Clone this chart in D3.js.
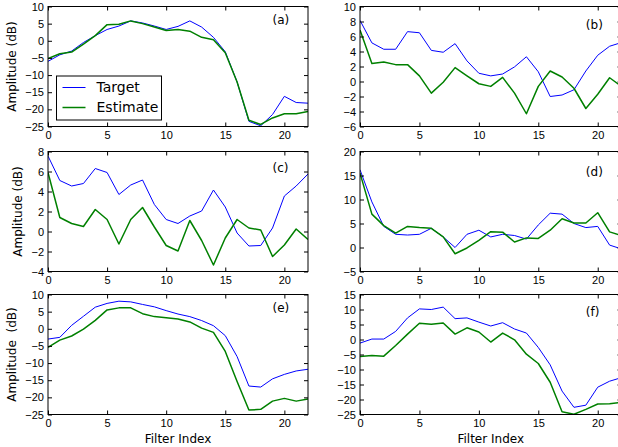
<!DOCTYPE html>
<html>
<head>
<meta charset="utf-8">
<script src="https://cdn.jsdelivr.net/npm/d3@7"></script>
<style>
  body { margin: 0; background: #fff; }
  svg { display: block; font-family: 'DejaVu Sans', sans-serif; }
  .axis path { display: none; }
  .axis line { stroke: #000; }
  .axis text { font-size: 11px; fill: #000; }
  .frame { fill: none; stroke: #000; stroke-width: 1; }
  .curve { fill: none; stroke-linejoin: round; }
  .target { stroke: #0000ff; stroke-width: 1; }
  .estimate { stroke: #008000; stroke-width: 1.5; }
  .label { font-size: 12px; fill: #000; white-space: pre; }
  .tag { font-size: 12px; fill: #000; }
  .legend text { font-size: 14px; fill: #000; }
</style>
</head>
<body>
<script>
/* global d3 */

let filterIndex = d3.range(0, 23)
let xTicks = [0, 5, 10, 15, 20]

let targetA = [-6.0, -4.1, -3.0, -0.5, 1.5, 3.3, 4.3, 5.8, 5.2, 4.3, 3.3, 4.2, 5.8, 4.0, 1.0, -3.2, -12.0, -23.5, -24.8, -21.5, -16.2, -18.0, -18.2]
let estimateA = [-5.2, -3.8, -3.3, -1.0, 1.5, 4.7, 4.8, 5.8, 5.0, 4.0, 3.0, 3.3, 2.8, 1.0, 0.3, -3.5, -12.0, -23.2, -24.4, -22.5, -21.3, -21.3, -20.6]

let targetB = [8.15, 5.15, 4.3, 4.3, 6.65, 6.5, 4.15, 3.9, 5.05, 2.75, 1.1, 0.75, 1.0, 1.95, 3.3, 1.3, -2.0, -1.8, -1.1, 1.4, 3.5, 4.7, 5.2]
let estimateB = [6.85, 2.4, 2.6, 2.25, 2.25, 0.75, -1.55, -0.1, 1.85, 0.75, -0.3, -0.65, 0.55, -1.55, -4.3, -0.65, 1.4, 0.6, -0.9, -3.6, -1.7, 0.5, -0.65]

let targetC = [7.55, 5.1, 4.55, 4.8, 6.3, 5.9, 3.7, 4.65, 5.15, 2.7, 1.2, 0.8, 1.55, 2.05, 4.15, 2.45, -0.15, -1.45, -1.4, 0.35, 3.55, 4.55, 5.75]
let estimateC = [5.9, 1.4, 0.8, 0.5, 2.2, 1.2, -1.25, 1.2, 2.4, 0.45, -1.4, -1.95, 1.1, -0.9, -3.35, -0.65, 1.2, 0.35, 0.15, -2.5, -1.35, 0.25, -0.8]

let targetD = [16.2, 9.5, 4.4, 2.75, 2.6, 2.75, 4.0, 2.2, 0.0, 2.75, 3.6, 2.2, 2.75, 2.5, 1.75, 4.7, 7.15, 6.95, 5.0, 4.15, 4.4, 0.5, -0.3]
let estimateD = [15.5, 6.95, 4.55, 3.0, 4.4, 4.15, 4.0, 2.2, -1.3, -0.1, 1.5, 3.3, 3.2, 1.15, 2.0, 1.9, 3.6, 6.0, 5.1, 5.1, 7.25, 3.25, 2.5]

let targetE = [-3.0, -2.5, 1.0, 3.65, 6.3, 7.4, 8.05, 7.85, 7.1, 6.4, 5.3, 4.3, 3.55, 2.4, 0.9, -2.0, -8.1, -16.7, -17.0, -14.6, -13.3, -12.3, -11.8]
let estimateE = [-5.45, -3.3, -2.1, -0.1, 2.45, 5.5, 6.1, 6.1, 4.4, 3.55, 3.25, 2.85, 2.0, 0.2, -1.05, -6.6, -15.4, -23.7, -23.5, -21.1, -20.3, -21.1, -20.5]

let targetF = [-1.2, 0.15, 0.15, 2.7, 7.2, 10.2, 10.0, 10.8, 6.95, 7.2, 5.8, 4.5, 5.6, 3.5, 2.15, -2.65, -8.45, -17.2, -22.6, -21.9, -15.9, -13.9, -12.7]
let estimateF = [-5.65, -5.3, -5.55, -2.0, 1.8, 5.4, 5.05, 5.5, 1.8, 3.9, 2.5, -0.85, 2.15, -0.1, -4.9, -8.0, -14.25, -24.1, -24.9, -23.3, -21.5, -21.4, -21.0]

let yTicksA = d3.range(-25, 11, 5)
let yTicksB = d3.range(-6, 11, 2)
let yTicksC = d3.range(-4, 9, 2)
let yTicksD = d3.range(-5, 21, 5)
let yTicksE = d3.range(-25, 11, 5)
let yTicksF = d3.range(-25, 16, 5)

let seriesNames = ['Target', 'Estimate']
let yLabel = 'Amplitude (dB)'
let yLabelE = 'Amplitude  (dB)'
let xLabel = 'Filter Index'

function main () {
  let svg = d3.select('body').append('svg')
    .attr('width', 618)
    .attr('height', 447)

  let cols = [{left: 48, width: 260}, {left: 360, width: 261.5}]
  let rows = [6.5, 151.5, 294.5]
  let height = 120

  let panels = [
    {tag: '(a)', target: targetA, estimate: estimateA, yTicks: yTicksA, tagAt: [19, 5], col: 0, row: 0, yLabel: yLabel, legend: true},
    {tag: '(b)', target: targetB, estimate: estimateB, yTicks: yTicksB, tagAt: [19, 7], col: 1, row: 0},
    {tag: '(c)', target: targetC, estimate: estimateC, yTicks: yTicksC, tagAt: [19, 6], col: 0, row: 1, yLabel: yLabel},
    {tag: '(d)', target: targetD, estimate: estimateD, yTicks: yTicksD, tagAt: [19, 15], col: 1, row: 1},
    {tag: '(e)', target: targetE, estimate: estimateE, yTicks: yTicksE, tagAt: [19, 5], col: 0, row: 2, yLabel: yLabelE, xLabel: xLabel},
    {tag: '(f)', target: targetF, estimate: estimateF, yTicks: yTicksF, tagAt: [19, 8], col: 1, row: 2, xLabel: xLabel},
  ]

  for (let panel of panels) {
    let col = cols[panel.col]
    renderPanel({
      svg,
      panel,
      left: col.left,
      top: rows[panel.row],
      width: col.width,
      height,
    })
  }
}

function renderPanel ({svg, panel, left, top, width, height}) {
  let g = svg.append('g').attr('transform', `translate(${left}, ${top})`)
  let yDomain = d3.extent(panel.yTicks)
  let x = d3.scaleLinear().domain([0, 22]).range([0, width])
  let y = d3.scaleLinear().domain(yDomain).range([height, 0])

  g.append('defs').append('clipPath')
    .attr('id', `clip-${panel.tag[1]}`)
    .append('rect')
    .attr('width', width)
    .attr('height', height)

  let lineGen = (values) => d3.line()
    .x((d, i) => x(filterIndex[i]))
    .y(d => y(d))(values)

  let curves = g.append('g').attr('clip-path', `url(#clip-${panel.tag[1]})`)
  curves.append('path')
    .attr('class', 'curve target')
    .attr('d', lineGen(panel.target))
  curves.append('path')
    .attr('class', 'curve estimate')
    .attr('d', lineGen(panel.estimate))

  // ticks point inward on all four sides
  g.append('g').attr('class', 'axis')
    .attr('transform', `translate(0, ${height})`)
    .call(d3.axisBottom(x).tickValues(xTicks).tickSizeInner(-4).tickSizeOuter(0).tickPadding(5))
  g.append('g').attr('class', 'axis')
    .call(d3.axisTop(x).tickValues(xTicks).tickSizeInner(-4).tickSizeOuter(0).tickFormat(''))
  g.append('g').attr('class', 'axis')
    .call(d3.axisLeft(y).tickValues(panel.yTicks).tickSizeInner(-4).tickSizeOuter(0).tickPadding(4))
  g.append('g').attr('class', 'axis')
    .attr('transform', `translate(${width}, 0)`)
    .call(d3.axisRight(y).tickValues(panel.yTicks).tickSizeInner(-4).tickSizeOuter(0).tickFormat(''))

  g.append('rect')
    .attr('class', 'frame')
    .attr('width', width)
    .attr('height', height)

  g.append('text')
    .attr('class', 'tag')
    .attr('x', x(panel.tagAt[0]))
    .attr('y', y(panel.tagAt[1]))
    .text(panel.tag)

  if (panel.yLabel) {
    let labelX = panel.row === 1 ? -30 : -36
    g.append('text')
      .attr('class', 'label')
      .attr('text-anchor', 'middle')
      .attr('transform', `translate(${labelX}, ${height / 2}) rotate(-90)`)
      .attr('dy', '0.35em')
      .text(panel.yLabel)
  }

  if (panel.xLabel) {
    g.append('text')
      .attr('class', 'label')
      .attr('text-anchor', 'middle')
      .attr('x', width / 2)
      .attr('y', height + 28)
      .text(panel.xLabel)
  }

  if (panel.legend) {
    renderLegend(g)
  }
}

function renderLegend (g) {
  let legend = g.append('g').attr('class', 'legend')
    .attr('transform', 'translate(8.5, 69.5)')
  legend.append('rect')
    .attr('width', 105)
    .attr('height', 44)
    .attr('fill', '#fff')
    .attr('stroke', '#000')
  let classes = ['target', 'estimate']
  seriesNames.forEach((name, i) => {
    let yy = 11.5 + i * 20
    legend.append('line')
      .attr('class', `curve ${classes[i]}`)
      .attr('x1', 6).attr('x2', 29)
      .attr('y1', yy).attr('y2', yy)
    legend.append('text')
      .attr('x', 40)
      .attr('y', yy)
      .attr('dy', '0.35em')
      .text(name)
  })
}

main()
</script>
</body>
</html>
